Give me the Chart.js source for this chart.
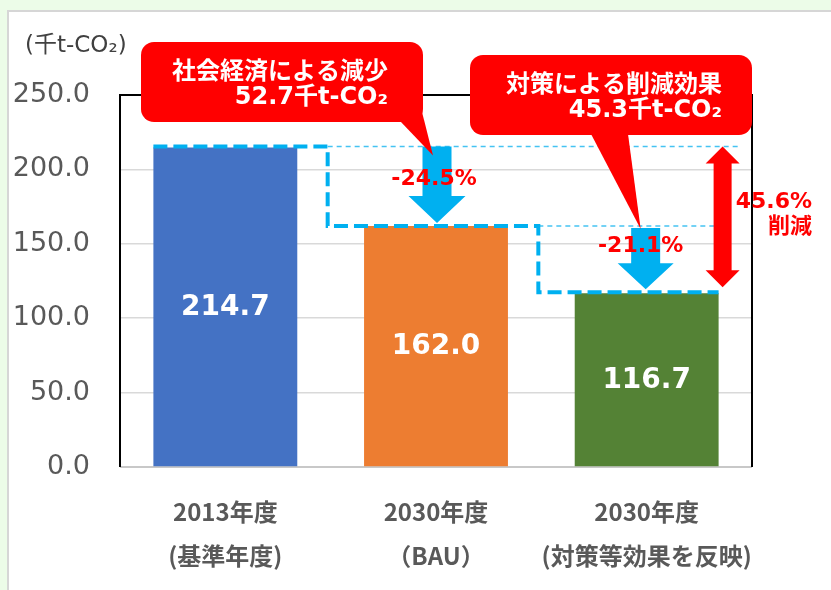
<!DOCTYPE html>
<html>
<head>
<meta charset="utf-8">
<script src="https://cdn.jsdelivr.net/npm/chart.js@4.4.1/dist/chart.umd.min.js"></script>
<style>
    html, body { margin: 0; padding: 0; }
    body { width: 831px; height: 590px; background: #ecfce8; position: relative; overflow: hidden; }
    #panel { position: absolute; left: 7px; top: 10px; width: 840px; height: 600px; background: #fff; border: 2px solid #d6d6d6; }
    #chart { position: absolute; left: 0; top: 0; }
</style>
</head>
<body>
<div id="panel"></div>
<canvas id="chart" width="831" height="590"></canvas>
<script>
const categories = [
    ["2013年度", "(基準年度)"],
    ["2030年度", "（BAU）"],
    ["2030年度", "(対策等効果を反映)"]
];
const emissions = [214.7, 162.0, 116.7];
const barColors = ["#4472c4", "#ed7d31", "#548235"];
const stepLabels = ["-24.5%", "-21.1%"];
const totalLabel = ["45.6%", "削減"];
const callouts = [
    ["社会経済による減少", "52.7千t-CO₂"],
    ["対策による削減効果", "45.3千t-CO₂"]
];
const unitLabel = "(千t-CO₂)";

const FONT = '"DejaVu Sans", "Noto Sans CJK JP", sans-serif';
const CJK = '"Noto Sans CJK JP", "DejaVu Sans", sans-serif';
const BLUE = "#00b0f0";
const RED = "#ff0000";

function downArrow(ctx, cx, top, tip, shaftW, headW, headL) {
    ctx.beginPath();
    ctx.moveTo(cx - shaftW / 2, top);
    ctx.lineTo(cx + shaftW / 2, top);
    ctx.lineTo(cx + shaftW / 2, tip - headL);
    ctx.lineTo(cx + headW / 2, tip - headL);
    ctx.lineTo(cx, tip);
    ctx.lineTo(cx - headW / 2, tip - headL);
    ctx.lineTo(cx - shaftW / 2, tip - headL);
    ctx.closePath();
    ctx.fill();
}

function doubleArrow(ctx, cx, top, bottom, shaftW, headW, headL) {
    ctx.beginPath();
    ctx.moveTo(cx, top);
    ctx.lineTo(cx + headW / 2, top + headL);
    ctx.lineTo(cx + shaftW / 2, top + headL);
    ctx.lineTo(cx + shaftW / 2, bottom - headL);
    ctx.lineTo(cx + headW / 2, bottom - headL);
    ctx.lineTo(cx, bottom);
    ctx.lineTo(cx - headW / 2, bottom - headL);
    ctx.lineTo(cx - shaftW / 2, bottom - headL);
    ctx.lineTo(cx - shaftW / 2, top + headL);
    ctx.lineTo(cx - headW / 2, top + headL);
    ctx.closePath();
    ctx.fill();
}

function callout(ctx, box, tail, tip, lines, textRight) {
    ctx.fillStyle = RED;
    ctx.beginPath();
    ctx.roundRect(box.l, box.t, box.r - box.l, box.b - box.t, 13);
    ctx.fill();
    ctx.beginPath();
    ctx.moveTo(tail[0][0], tail[0][1]);
    ctx.lineTo(tail[1][0], tail[1][1]);
    ctx.lineTo(tip[0], tip[1]);
    ctx.closePath();
    ctx.fill();
    ctx.fillStyle = "#fff";
    ctx.font = "bold 24px " + FONT;
    ctx.textAlign = "right";
    ctx.textBaseline = "middle";
    ctx.fillText(lines[0], textRight, box.t + 31);
    ctx.fillText(lines[1], textRight, box.t + 56);
}

const overlay = {
    id: "overlay",
    beforeDatasetsDraw(chart) {
        const ctx = chart.ctx, a = chart.chartArea;
        ctx.save();
        ctx.strokeStyle = "#c8c8c8";
        ctx.lineWidth = 2;
        ctx.beginPath();
        ctx.moveTo(a.left, a.bottom);
        ctx.lineTo(a.right, a.bottom);
        ctx.stroke();
        ctx.strokeStyle = "#000";
        ctx.lineWidth = 2;
        ctx.beginPath();
        ctx.moveTo(a.left, a.bottom);
        ctx.lineTo(a.left, a.top);
        ctx.lineTo(a.right, a.top);
        ctx.lineTo(a.right, a.bottom);
        ctx.stroke();
        ctx.fillStyle = "#404040";
        ctx.font = "23px " + FONT;
        ctx.textAlign = "left";
        ctx.textBaseline = "middle";
        ctx.fillText(unitLabel, 25, 46);
        ctx.restore();
    },
    afterDatasetsDraw(chart) {
        const ctx = chart.ctx, y = chart.scales.y;
        const bars = chart.getDatasetMeta(0).data;
        const ys = emissions.map(v => y.getPixelForValue(v));
        const mid01 = (bars[0].x + bars[0].width / 2 + bars[1].x - bars[1].width / 2) / 2 - 3;
        const mid12 = (bars[1].x + bars[1].width / 2 + bars[2].x - bars[2].width / 2) / 2 - 3;
        const barRight2 = bars[2].x + bars[2].width / 2;
        const dblX = barRight2 + 4;
        ctx.save();

        // values inside bars
        ctx.fillStyle = "#fff";
        ctx.font = "bold 28px " + FONT;
        ctx.textAlign = "center";
        ctx.textBaseline = "middle";
        bars.forEach((b, i) => {
            ctx.fillText(emissions[i].toFixed(1), b.x, (b.y + b.base) / 2 + 1);
        });

        // thin guide lines
        ctx.strokeStyle = "#45c3f2";
        ctx.lineWidth = 1.5;
        ctx.setLineDash([5, 4]);
        ctx.beginPath();
        ctx.moveTo(mid01, ys[0] - 1);
        ctx.lineTo(dblX + 16, ys[0] - 1);
        ctx.moveTo(mid12, ys[1]);
        ctx.lineTo(dblX - 8, ys[1]);
        ctx.stroke();

        // thick dashed steps
        ctx.strokeStyle = BLUE;
        ctx.lineWidth = 4;
        ctx.setLineDash([14, 6]);
        ctx.beginPath();
        ctx.moveTo(bars[0].x - bars[0].width / 2, ys[0] - 1);
        ctx.lineTo(mid01, ys[0] - 1);
        ctx.lineTo(mid01, ys[1]);
        ctx.lineTo(mid12, ys[1]);
        ctx.lineTo(mid12, ys[2] - 1);
        ctx.lineTo(barRight2, ys[2] - 1);
        ctx.stroke();
        ctx.setLineDash([]);

        // blue arrows
        ctx.fillStyle = BLUE;
        downArrow(ctx, bars[1].x + 1, ys[0] - 1, ys[1] - 3, 29, 57, 27);
        downArrow(ctx, bars[2].x - 1, ys[1] + 2, ys[2] - 4, 29, 56, 26);

        // step percentages
        ctx.fillStyle = RED;
        ctx.font = "bold 22px " + FONT;
        ctx.textAlign = "center";
        ctx.textBaseline = "middle";
        ctx.fillText(stepLabels[0], bars[1].x - 2, (ys[0] + ys[1]) / 2 - 7);
        ctx.fillText(stepLabels[1], bars[2].x - 6, (ys[1] + ys[2]) / 2 - 13);

        // red double arrow
        doubleArrow(ctx, dblX, ys[0] - 1, ys[2] - 6, 18, 34, 17);

        // callouts
        callout(ctx, { l: 141, t: 42, r: 423, b: 122 }, [[400, 121], [421, 108]],
            [bars[1].x - 3, ys[0] + 8], callouts[0], 388);
        callout(ctx, { l: 470, t: 55, r: 752, b: 135 }, [[591, 134], [628, 134]],
            [bars[2].x - 6, ys[1] + 3], callouts[1], 722);

        // total reduction
        ctx.fillStyle = RED;
        ctx.font = "bold 22px " + FONT;
        ctx.textAlign = "right";
        ctx.textBaseline = "middle";
        ctx.fillText(totalLabel[0], 812, (ys[0] + ys[2]) / 2 - 18);
        ctx.fillText(totalLabel[1], 812, (ys[0] + ys[2]) / 2 + 7);
        ctx.restore();
    }
};

new Chart(document.getElementById("chart"), {
    type: "bar",
    data: {
        labels: categories,
        datasets: [{
            data: emissions,
            backgroundColor: barColors,
            categoryPercentage: 1,
            barPercentage: 0.683
        }]
    },
    options: {
        responsive: false,
        animation: false,
        devicePixelRatio: 1,
        layout: { padding: { left: 0, top: 95, right: 79, bottom: 0 } },
        plugins: { legend: { display: false }, tooltip: { enabled: false } },
        scales: {
            x: {
                grid: { display: false },
                border: { display: false },
                ticks: {
                    color: "#595959",
                    padding: 15,
                    maxRotation: 0,
                    minRotation: 0,
                    autoSkip: false,
                    font: { family: CJK, size: 24, weight: "bold", lineHeight: 1.83 }
                },
                afterFit(scale) { scale.height = 123; }
            },
            y: {
                min: 0,
                max: 250,
                grid: { color: "#d9d9d9", lineWidth: 1.5, drawTicks: false },
                border: { display: false },
                ticks: {
                    stepSize: 50,
                    padding: 30,
                    color: "#595959",
                    font: { family: FONT, size: 27 },
                    callback: v => v.toFixed(1)
                },
                afterFit(scale) { scale.width = 120; }
            }
        }
    },
    plugins: [overlay]
});
</script>
</body>
</html>
